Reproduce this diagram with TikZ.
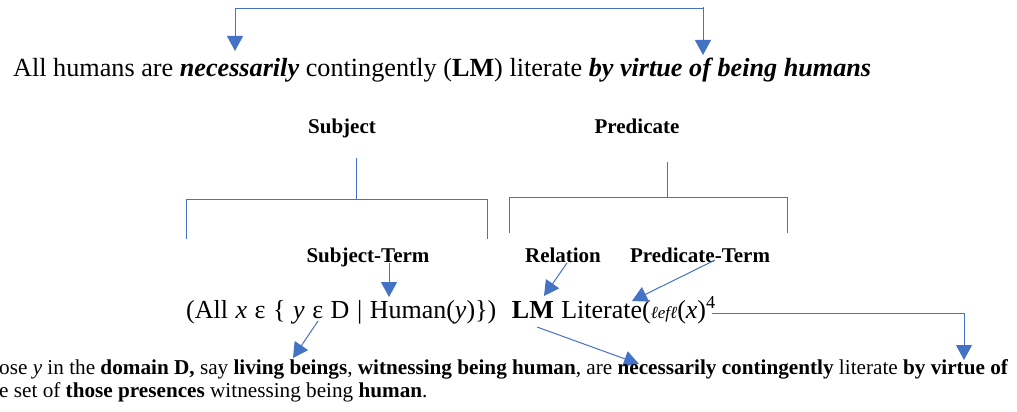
\documentclass[tikz,border=0pt]{standalone}
\usepackage{fontspec}
\setmainfont{Liberation Serif}
\usetikzlibrary{arrows.meta}
\definecolor{lnblue}{RGB}{68,114,196}
\newcommand{\formspacing}{\spaceskip=0.29em\relax}
\tikzset{
  conn/.style={draw=lnblue, line width=1pt},
  arr/.style={conn, -{Triangle[width=16pt,length=15pt]}},
  txt/.style={inner sep=0pt, anchor=base west},
  head/.style={inner sep=0pt, anchor=base, font=\fontsize{21}{24}\selectfont\bfseries},
  bigline/.style={txt, font=\fontsize{26.2}{30}\selectfont},
  formula/.style={txt, font=\fontsize{26}{30}\selectfont},
  bottom/.style={txt, font=\fontsize{21.2}{24}\selectfont}
}
\begin{document}
\begin{tikzpicture}[x=1pt,y=-1pt]
\useasboundingbox (0,0) rectangle (1017,412);
\clip (0,0) rectangle (1017,412);

% main sentence
\node[bigline] (main) at (13,77) {All humans are \textbf{\textit{necessarily}} contingently (\textbf{LM}) literate \textbf{\textit{by virtue of being humans}}};

% top connector
\coordinate (topL) at (235,51);
\coordinate (topR) at (703,55);
\coordinate (topCornerL) at (235,9);
\coordinate (topCornerR) at (703,9);
\draw[arr] (topCornerR) ++(0,-2) -- (topR);
\draw[arr] (topCornerR) -- (topCornerL) -- (topL);

% headings
\node[head] (subj) at (342,133) {Subject};
\node[head] (pred) at (637,133) {Predicate};
\node[head] (subjterm) at (368,262) {Subject-Term};
\node[head] (rel) at (563,262) {Relation};
\node[head] (predterm) at (700,262) {Predicate-Term};

% brackets
\coordinate (sStem) at (356,158);
\coordinate (sMid) at (356,199);
\coordinate (sL) at (186,199);
\coordinate (sR) at (487,199);
\coordinate (sLd) at (186,239);
\coordinate (sRd) at (487,239);
\draw[conn] (sStem) -- (sMid);
\draw[conn] (sLd) -- (sL) -- (sR) -- (sRd);

\coordinate (pStem) at (667,162);
\coordinate (pMid) at (667,197);
\coordinate (pL) at (509,197);
\coordinate (pR) at (787,197);
\coordinate (pLd) at (509,233);
\coordinate (pRd) at (787,233);
\draw[conn] (pStem) -- (pMid);
\draw[conn] (pLd) -- (pL) -- (pR) -- (pRd);

% formula
\node[formula] (form) at (186,318) {\formspacing(All \textit{x} ε \{ \textit{y} ε D | Human(\textit{y})\})\hspace{0.6em}\textbf{LM} Literate({\fontsize{17}{20}\selectfont\textit{ℓefℓ}}(\textit{x})\textsuperscript{4}};

% arrows from headings to formula
\coordinate (stStart) at (389,263);
\coordinate (humanTip) at (389,297);
\draw[arr] (stStart) -- (humanTip);
\coordinate (relStart) at (567,263);
\coordinate (lmTip) at (544,296);
\draw[arr] (relStart) -- (lmTip);
\coordinate (ptStart) at (715,260);
\coordinate (litTip) at (632,301);
\draw[arr] (ptStart) -- (litTip);

% arrows from formula to bottom text
\coordinate (epsStart) at (318,321);
\coordinate (domTip) at (293,358);
\draw[arr] (epsStart) -- (domTip);
\coordinate (lmStart) at (537,327);
\coordinate (necTip) at (639,364);
\draw[arr] (lmStart) -- (necTip);
\coordinate (supStart) at (712,313);
\coordinate (supCorner) at (964,313);
\coordinate (virtTip) at (964,360);
\draw[arr] (supStart) -- (supCorner) -- (virtTip);

% bottom text
\node[bottom] (b1) at (-1,374) {ose \textit{y} in the \textbf{domain D,} say \textbf{living beings}, \textbf{witnessing being human}, are \textbf{necessarily contingently} literate \textbf{by virtue of}};
\node[bottom] (b2) at (-1,397) {e set of \textbf{those presences} witnessing being \textbf{human}.};
\end{tikzpicture}
\end{document}
